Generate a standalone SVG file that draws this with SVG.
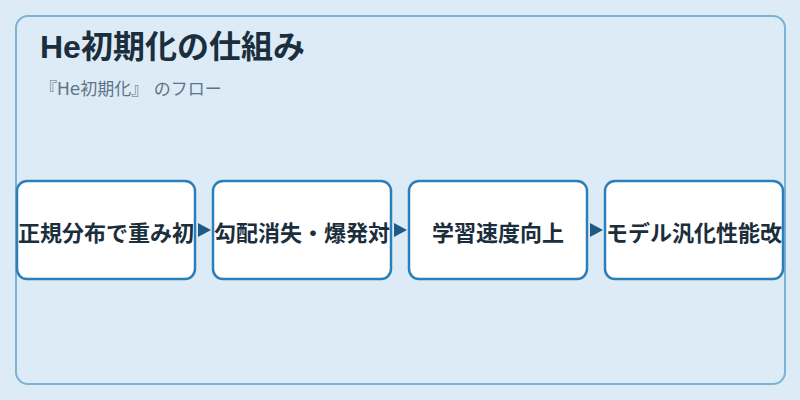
<svg xmlns="http://www.w3.org/2000/svg" width="800" height="400" viewBox="0 0 800 400">
<defs>
<style>
.bg{fill:#ddebf6}
.frame{fill:#ddebf6;stroke:#7ab3d6;stroke-width:2}
.node rect{fill:#ffffff;stroke:#2e7fb8;stroke-width:2.5}
.node text{font-family:"Liberation Sans","Noto Sans CJK JP",sans-serif;font-size:22px;font-weight:bold;fill:#1b2e3c;text-anchor:middle}
.title{font-family:"Liberation Sans","Noto Sans CJK JP",sans-serif;font-size:32px;font-weight:bold;fill:#1a2e3d}
.sub{font-family:"DejaVu Sans","Noto Sans CJK JP",sans-serif;font-size:17px;fill:#5d7386;white-space:pre}
.arrow{fill:#1f5a85}
</style>
</defs>
<rect class="bg" x="0" y="0" width="800" height="400"/>
<rect class="frame" x="16" y="16" width="769" height="368" rx="12"/>
<text class="title" x="40" y="58">He初期化の仕組み</text>
<text class="sub" x="40" y="95">『He初期化』 のフロー</text>
<g id="connectors">
<polygon class="arrow" points="198,223 211,230 198,237"/>
<polygon class="arrow" points="394,223 407,230 394,237"/>
<polygon class="arrow" points="590,223 603,230 590,237"/>
</g>
<g id="node1" class="node"><rect x="17" y="181" width="178" height="98" rx="10"/><text x="106" y="241">正規分布で重み初</text></g>
<g id="node2" class="node"><rect x="213" y="181" width="178" height="98" rx="10"/><text x="302" y="241">勾配消失・爆発対</text></g>
<g id="node3" class="node"><rect x="409" y="181" width="178" height="98" rx="10"/><text x="498" y="241">学習速度向上</text></g>
<g id="node4" class="node"><rect x="605" y="181" width="178" height="98" rx="10"/><text x="694" y="241">モデル汎化性能改</text></g>
</svg>
